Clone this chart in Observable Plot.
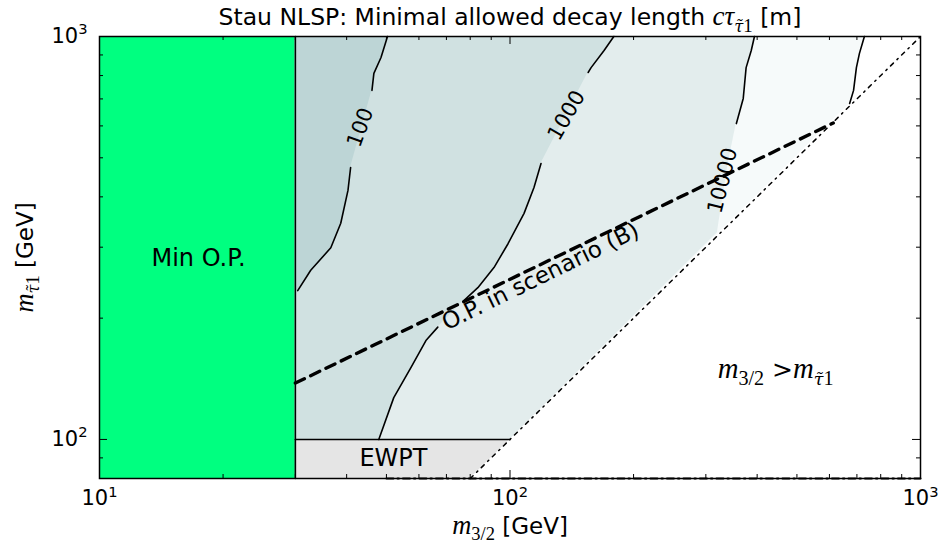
<!DOCTYPE html>
<html><head><meta charset="utf-8">
<script src="https://cdn.jsdelivr.net/npm/d3@7"></script>
<script src="https://cdn.jsdelivr.net/npm/@observablehq/plot@0.6"></script>
<style>body{margin:0;background:#fff} svg{display:block} svg text{white-space:pre}</style>
</head><body><div id="chart"></div>
<script>
// ---- texts ----
const title = "Stau NLSP: Minimal allowed decay length $cτ_{τ̃1}$ [m]";
const xLabel = "$m_{3/2}$ [GeV]";
const yLabel = "$m_{τ̃1}$ [GeV]";
const regionLabels = ["Min O.P.", "EWPT", "$m_{3/2}$ >$m_{τ̃1}$", "O.P. in scenario (B)"];
const contourLevels = ["100", "1000", "10000"];

// ---- axes ----
const xDomain = [10, 1000];
const yDomain = [80, 1000];
const xMajor = [10, 100, 1000];
const xMinor = [20, 30, 40, 50, 60, 70, 80, 90, 200, 300, 400, 500, 600, 700, 800, 900];
const yMajor = [100, 1000];
const yMinor = [90, 200, 300, 400, 500, 600, 700, 800, 900];

// ---- regions (m3/2, m_stau in GeV) ----
const minOPEdge = 30;                     // Min O.P. excludes m3/2 < 30
const minOPRegion = [[10, 30, 80, 1000]]; // x1, x2, y1, y2
const ewptBand = [80, 100];               // m_stau excluded by EWPT (up to diagonal)
const ewptTop = 100;
const diagLine = [[80, 80], [1000, 1000]];  // m3/2 = m_stau
const bottomLine = [[50, 80], [1000, 80]];
const opLine = [[30, 138], [613, 610]];     // O.P. in scenario (B)

// contour segments [m3/2, m_stau] (gaps where labels sit)
const c100 = [
  [[50.3, 1000], [48.5, 887], [46.6, 810], [46.1, 735]],
  [[40.9, 473], [40.3, 415], [38.7, 344], [36.6, 299], [32.7, 263], [30.4, 234]]
];
const c1000 = [
  [[179, 1000], [169.5, 923], [157.6, 837], [155, 814]],
  [[119, 484], [114.4, 422], [108.2, 364], [98.9, 306], [91.4, 267], [83.5, 238], [77.2, 221]],
  [[66.7, 190], [62.4, 176], [57.4, 151], [52.1, 127], [47.9, 100]]
];
const c10000 = [
  [[394, 1000], [387, 923], [376, 837], [370, 702], [356, 608]]
];
const c10000Hidden = [[340, 484], [327, 376], [320, 326]];
const c100000 = [
  [[730, 1000], [710, 908], [698, 837], [687, 735], [672, 682]]
];

const colors = ["#bdd5d6", "#d0e1e1", "#e3eded", "#f6fafa"];

const H = 544 - 36 - 66, W = 938 - 99 - 18;
const fills = [
  {pts: c100000.flat().concat([[ewptTop, ewptTop]]), color: colors[3]},
  {pts: c10000.flat().concat(c10000Hidden, [[ewptTop, ewptTop]]), color: colors[2]},
  {pts: c1000.flat(), color: colors[1]},
  {pts: c100.flat(), color: colors[0]}
];
const X = d => d[0], Y = d => d[1];

const marks = [
  Plot.rect(minOPRegion, {x1: d => d[0], x2: d => d[1], y1: d => d[2], y2: d => d[3], fill: "#00ff80"}),
  ...fills.map(f => Plot.areaX(f.pts, {x1: () => minOPEdge, x2: X, y: Y, fill: f.color})),
  Plot.areaX(ewptBand, {x1: () => minOPEdge, x2: d => d, y: d => d, fill: "#e5e5e5"}),
  ...[...c100, ...c1000, ...c10000, ...c100000].map(seg =>
    Plot.line(seg, {x: X, y: Y, stroke: "black", strokeWidth: 1.6})),
  Plot.line([[minOPEdge, yDomain[0]], [minOPEdge, yDomain[1]]], {x: X, y: Y, stroke: "black", strokeWidth: 1.6}),
  Plot.line([[minOPEdge, ewptTop], [ewptTop, ewptTop]], {x: X, y: Y, stroke: "black", strokeWidth: 1.6}),
  Plot.line(diagLine, {x: X, y: Y, stroke: "black", strokeWidth: 1.5, strokeDasharray: "4,5,1.5,5"}),
  Plot.line(opLine, {x: X, y: Y, stroke: "black", strokeWidth: 3.4, strokeDasharray: "10,7"}),
  // labels
  Plot.text([regionLabels[0]], {x: () => 17.43, y: () => 281, text: d => d, fontSize: 24}),
  Plot.text([regionLabels[1]], {x: () => 52.0, y: () => 89.7, text: d => d, fontSize: 24}),
  Plot.text([regionLabels[2]], {x: () => 443.6, y: () => 148.3, text: d => d, fontSize: 25}),
  Plot.text([regionLabels[3]], {x: () => 118.7, y: () => 253.8, text: d => d, fontSize: 23, rotate: -26}),
  Plot.text([contourLevels[0]], {x: () => 43.2, y: () => 595, text: d => d, fontSize: 21, rotate: -70}),
  Plot.text([contourLevels[1]], {x: () => 137.3, y: () => 637, text: d => d, fontSize: 21, rotate: -60}),
  Plot.text([contourLevels[2]], {x: () => 329.4, y: () => 439, text: d => d, fontSize: 21, rotate: -76}),
  // ticks (inward, all four sides)
  Plot.tickX(xMajor, {x: d => d, insetTop: H - 8, stroke: "black"}),
  Plot.tickX(xMajor, {x: d => d, insetBottom: H - 8, stroke: "black"}),
  Plot.tickX(xMinor, {x: d => d, insetTop: H - 4, stroke: "black"}),
  Plot.tickX(xMinor, {x: d => d, insetBottom: H - 4, stroke: "black"}),
  Plot.tickY(yMajor, {y: d => d, insetRight: W - 8, stroke: "black"}),
  Plot.tickY(yMajor, {y: d => d, insetLeft: W - 8, stroke: "black"}),
  Plot.tickY(yMinor, {y: d => d, insetRight: W - 4, stroke: "black"}),
  Plot.tickY(yMinor, {y: d => d, insetLeft: W - 4, stroke: "black"}),
  Plot.frame({stroke: "black", strokeWidth: 1.5}),
  Plot.line(bottomLine, {x: X, y: Y, stroke: "black", strokeWidth: 2, strokeDasharray: "7,4,1.5,4"}),
  Plot.axisX({ticks: xMajor, tickFormat: d => `10^{${Math.round(Math.log10(d))}}`, tickSize: 0, tickPadding: 12, fontSize: 21, label: null}),
  Plot.axisY({ticks: yMajor, tickFormat: d => `10^{${Math.round(Math.log10(d))}}`, tickSize: 0, tickPadding: 12, fontSize: 21, label: null}),
  Plot.text([title], {frameAnchor: "top", lineAnchor: "middle", textAnchor: "middle", dy: -19, text: d => d, fontSize: 23.5}),
  Plot.text([xLabel], {frameAnchor: "bottom", lineAnchor: "middle", textAnchor: "middle", dy: 48, text: d => d, fontSize: 23}),
  Plot.text([yLabel], {frameAnchor: "left", lineAnchor: "middle", textAnchor: "middle", dx: -74, rotate: -90, text: d => d, fontSize: 23})
];

const chart = Plot.plot({
  width: 938, height: 544,
  marginLeft: 99, marginRight: 18, marginTop: 36, marginBottom: 66,
  x: {type: "log", domain: xDomain, axis: null},
  y: {type: "log", domain: yDomain, axis: null},
  style: {fontFamily: "DejaVu Sans, sans-serif", background: "white", color: "black", overflow: "visible"},
  marks
});
document.getElementById("chart").appendChild(chart);

// rich text: $..$ math (serif italic), _{..} subscript, ^{..} superscript
function richify(svg) {
  svg.querySelectorAll("text").forEach(el => {
    const s = el.textContent;
    if (!/[$_^]/.test(s)) return;
    const fs = parseFloat(getComputedStyle(el).fontSize) || 16;
    const tokens = []; let buf = "", math = false;
    const flush = () => { if (buf) tokens.push({t: buf, level: 0, math}); buf = ""; };
    for (let i = 0; i < s.length; i++) {
      const c = s[i];
      if (c === "$") { flush(); math = !math; continue; }
      if ((c === "_" || c === "^") && s[i + 1] === "{") {
        flush();
        const j = s.indexOf("}", i + 2);
        tokens.push({t: s.slice(i + 2, j), level: c === "_" ? -1 : 1, math});
        i = j; continue;
      }
      buf += c;
    }
    flush();
    el.textContent = "";
    let cur = 0;
    for (const tok of tokens) {
      const runs = tok.math ? tok.t.match(/[0-9\/]+|[^0-9\/]+/g) : [tok.t];
      const target = tok.level < 0 ? 0.28 * fs : tok.level > 0 ? -0.42 * fs : 0;
      let first = true;
      for (const r of runs) {
        const ts = document.createElementNS("http://www.w3.org/2000/svg", "tspan");
        ts.textContent = r;
        if (first && target !== cur) { ts.setAttribute("dy", target - cur); cur = target; }
        first = false;
        let size = tok.level ? 0.7 * fs : fs;
        if (tok.math) {
          const combining = /[\u0300-\u036f]/.test(r);
          ts.setAttribute("font-family", combining ? "DejaVu Serif, serif" : "Liberation Serif, DejaVu Serif, serif");
          if (!/^[0-9\/]+$/.test(r)) ts.setAttribute("font-style", "italic");
          size *= combining ? 1.0 : 1.15;
        }
        ts.setAttribute("font-size", size);
        el.appendChild(ts);
      }
    }
  });
}
richify(chart);
</script>
</body></html>
